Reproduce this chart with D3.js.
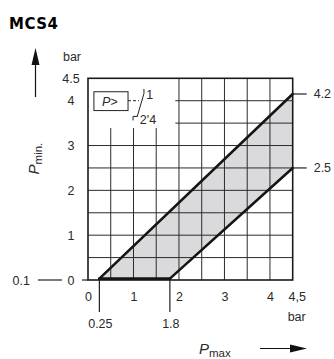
<!DOCTYPE html>
<html>
<head>
<meta charset="utf-8">
<script src="https://cdn.jsdelivr.net/npm/d3@7"></script>
<style>
  body { margin: 0; background: #fff; }
  svg { display: block; font-family: "Liberation Sans", Arial, sans-serif; }
  .lbl { font-size: 12.5px; fill: #2a2a2a; }
</style>
</head>
<body>
<div id="vis"></div>
<script>
const W = 334, H = 359;
const margin = {top: 78.3, right: 41.3, bottom: 79, left: 88};

// chart values (bar)
const xTicks = [0, 1, 2, 3, 4, 4.5];
const xTickLabels = ["0", "1", "2", "3", "4", "4,5"];
const yTicks = [0, 1, 2, 3, 4, 4.5];
const yTickLabels = ["0", "1", "2", "3", "4", "4.5"];
const gridStep = [0.5, 1, 1.5, 2, 2.5, 3, 3.5, 4];
const bandUpper = [[0.25, 0.03], [4.5, 4.15]];
const bandLower = [[1.8, 0.03], [4.5, 2.5]];
const xMarks = [0.25, 1.8];
const xMarkLabels = ["0.25", "1.8"];
const rightMarks = [4.15, 2.5];
const rightMarkLabels = ["4.2", "2.5"];
const blankZone = {x0: 0, x1: 1.92, y0: 3.39, y1: 4.5};

const svg = d3.select('#vis').append('svg')
    .attr('width', W).attr('height', H);

const x = d3.scaleLinear().domain([0, 4.5]).range([margin.left, W - margin.right]);
const y = d3.scaleLinear().domain([0, 4.5]).range([H - margin.bottom, margin.top]);

// title
svg.append('text')
    .attr('x', 9).attr('y', 28.5)
    .attr('font-family', '"DejaVu Sans", sans-serif')
    .attr('font-weight', 'bold')
    .attr('font-size', 15)
    .attr('letter-spacing', 0.5)
    .attr('fill', '#000')
    .text('MCS4');

// band fill
const bandPoly = [bandUpper[0], bandUpper[1], bandLower[1], bandLower[0]];
svg.append('path')
    .attr('d', d3.line().x(d => x(d[0])).y(d => y(d[1]))(bandPoly) + 'Z')
    .attr('fill', '#dadadc');

// grid
const grid = svg.append('g').attr('stroke', '#2b2b2b').attr('stroke-width', 1);
grid.selectAll('.vg').data(gridStep).join('line')
    .attr('x1', d => x(d)).attr('x2', d => x(d))
    .attr('y1', y(0)).attr('y2', y(4.5));
grid.selectAll('.hg').data(gridStep).join('line')
    .attr('x1', x(0)).attr('x2', x(4.5))
    .attr('y1', d => y(d)).attr('y2', d => y(d));

// blank zone for the switch symbol
svg.append('rect')
    .attr('x', x(blankZone.x0)).attr('y', y(blankZone.y1))
    .attr('width', x(blankZone.x1) - x(blankZone.x0))
    .attr('height', y(blankZone.y0) - y(blankZone.y1))
    .attr('fill', '#fff');

// frame
svg.append('rect')
    .attr('x', x(0)).attr('y', y(4.5))
    .attr('width', x(4.5) - x(0)).attr('height', y(0) - y(4.5))
    .attr('fill', 'none').attr('stroke', '#1a1a1a').attr('stroke-width', 1.6);

// band outline
const outline = svg.append('g').attr('stroke', '#151515').attr('stroke-width', 2.6)
    .attr('fill', 'none').attr('stroke-linecap', 'round');
[bandUpper, bandLower, [bandUpper[0], bandLower[0]]].forEach(seg => {
    outline.append('line')
        .attr('x1', x(seg[0][0])).attr('y1', y(seg[0][1]))
        .attr('x2', x(seg[1][0])).attr('y2', y(seg[1][1]));
});

// axes
const xAxis = svg.append('g')
    .attr('transform', `translate(0,${y(0)})`)
    .call(d3.axisBottom(x).tickValues(xTicks).tickSize(0).tickPadding(12)
        .tickFormat((d, i) => xTickLabels[i]));
xAxis.select('.domain').remove();
xAxis.selectAll('text').attr('class', 'lbl').attr('font-size', null).attr('fill', null);
xAxis.selectAll('.tick').filter(d => d === 4.5).select('text').attr('x', 4);

const yAxis = svg.append('g')
    .attr('transform', `translate(${x(0)},0)`)
    .call(d3.axisLeft(y).tickValues(yTicks).tickSize(0).tickPadding(0)
        .tickFormat((d, i) => yTickLabels[i]));
yAxis.select('.domain').remove();
yAxis.selectAll('text').attr('class', 'lbl').attr('font-size', null).attr('fill', null)
    .attr('text-anchor', 'middle').attr('x', -17);

const thin = svg.append('g').attr('stroke', '#222').attr('stroke-width', 1.2);

// 0 tick and 0.1 leader
thin.append('line').attr('x1', x(0) - 6).attr('x2', x(0)).attr('y1', y(0)).attr('y2', y(0));
thin.append('line').attr('x1', 38).attr('x2', 62).attr('y1', y(0)).attr('y2', y(0));
svg.append('text').attr('class', 'lbl').attr('x', 30).attr('y', y(0) + 4.5)
    .attr('text-anchor', 'end').text('0.1');

// x marks below axis
thin.selectAll('.xm').data(xMarks).join('line')
    .attr('x1', d => x(d)).attr('x2', d => x(d))
    .attr('y1', y(0)).attr('y2', y(0) + 32);
svg.selectAll('.xml').data(xMarks).join('text')
    .attr('class', 'lbl').attr('text-anchor', 'middle')
    .attr('x', d => x(d) + 1).attr('y', y(0) + 48)
    .text((d, i) => xMarkLabels[i]);

// right marks
thin.selectAll('.rm').data(rightMarks).join('line')
    .attr('x1', x(4.5)).attr('x2', x(4.5) + 14)
    .attr('y1', d => y(d)).attr('y2', d => y(d));
svg.selectAll('.rml').data(rightMarks).join('text')
    .attr('class', 'lbl')
    .attr('x', x(4.5) + 21).attr('y', d => y(d) + 4.5)
    .text((d, i) => rightMarkLabels[i]);

// units
svg.append('text').attr('class', 'lbl').attr('text-anchor', 'middle')
    .attr('x', 72).attr('y', 61).text('bar');
svg.append('text').attr('class', 'lbl').attr('text-anchor', 'middle')
    .attr('x', x(4.5) + 4).attr('y', y(0) + 41).text('bar');

// y title + arrow
const yTitle = svg.append('text').attr('class', 'lbl')
    .attr('transform', `translate(38.5,${y(2.6) + 11}) rotate(-90)`)
    .attr('font-size', 14);
yTitle.append('tspan').attr('font-style', 'italic').attr('font-size', 15).text('P');
yTitle.append('tspan').attr('dy', 3).attr('font-size', 11.5).text('min.');

svg.append('line').attr('x1', 35.5).attr('x2', 35.5).attr('y1', 97).attr('y2', 60)
    .attr('stroke', '#111').attr('stroke-width', 1.2);
svg.append('path').attr('d', 'M35.5,48 L31.5,65 L39.5,65 Z').attr('fill', '#111');

// x title + arrow
const xTitle = svg.append('text').attr('class', 'lbl')
    .attr('x', 199).attr('y', 354);
xTitle.append('tspan').attr('font-style', 'italic').attr('font-size', 15).text('P');
xTitle.append('tspan').attr('dy', 3).attr('font-size', 11.5).text('max');

svg.append('line').attr('x1', 260).attr('x2', 295).attr('y1', 348.5).attr('y2', 348.5)
    .attr('stroke', '#111').attr('stroke-width', 1.2);
svg.append('path').attr('d', 'M307,348.5 L290,344.5 L290,352.5 Z').attr('fill', '#111');

// switch symbol inside the chart
const sym = svg.append('g').attr('stroke', '#222').attr('stroke-width', 1).attr('fill', 'none');
sym.append('rect').attr('x', x(0.13)).attr('y', y(4.2)).attr('width', x(0.88) - x(0.13))
    .attr('height', y(3.78) - y(4.2));
sym.append('line').attr('x1', x(0.88)).attr('x2', x(1.12)).attr('y1', y(4)).attr('y2', y(4))
    .attr('stroke-dasharray', '3,2');
sym.append('path').attr('d', `M${x(1.08)},${y(3.64)} L${x(1.23)},${y(4.16)} L${x(1.23)},${y(4.26)}`);
sym.append('path').attr('d', `M${x(0.99)},${y(3.56)} L${x(0.99)},${y(3.65)} L${x(1.08)},${y(3.65)}`);
svg.append('text').attr('class', 'lbl').attr('x', x(0.13) + 8).attr('y', y(4) + 5)
    .attr('font-style', 'italic').attr('font-size', 13).text('P>');
svg.append('text').attr('class', 'lbl').attr('x', x(1.28)).attr('y', y(4.14) + 5)
    .attr('font-size', 12).text('1');
svg.append('text').attr('class', 'lbl').attr('x', x(1.14)).attr('y', y(3.56) + 4)
    .attr('font-size', 12).text("2'4");
</script>
</body>
</html>
